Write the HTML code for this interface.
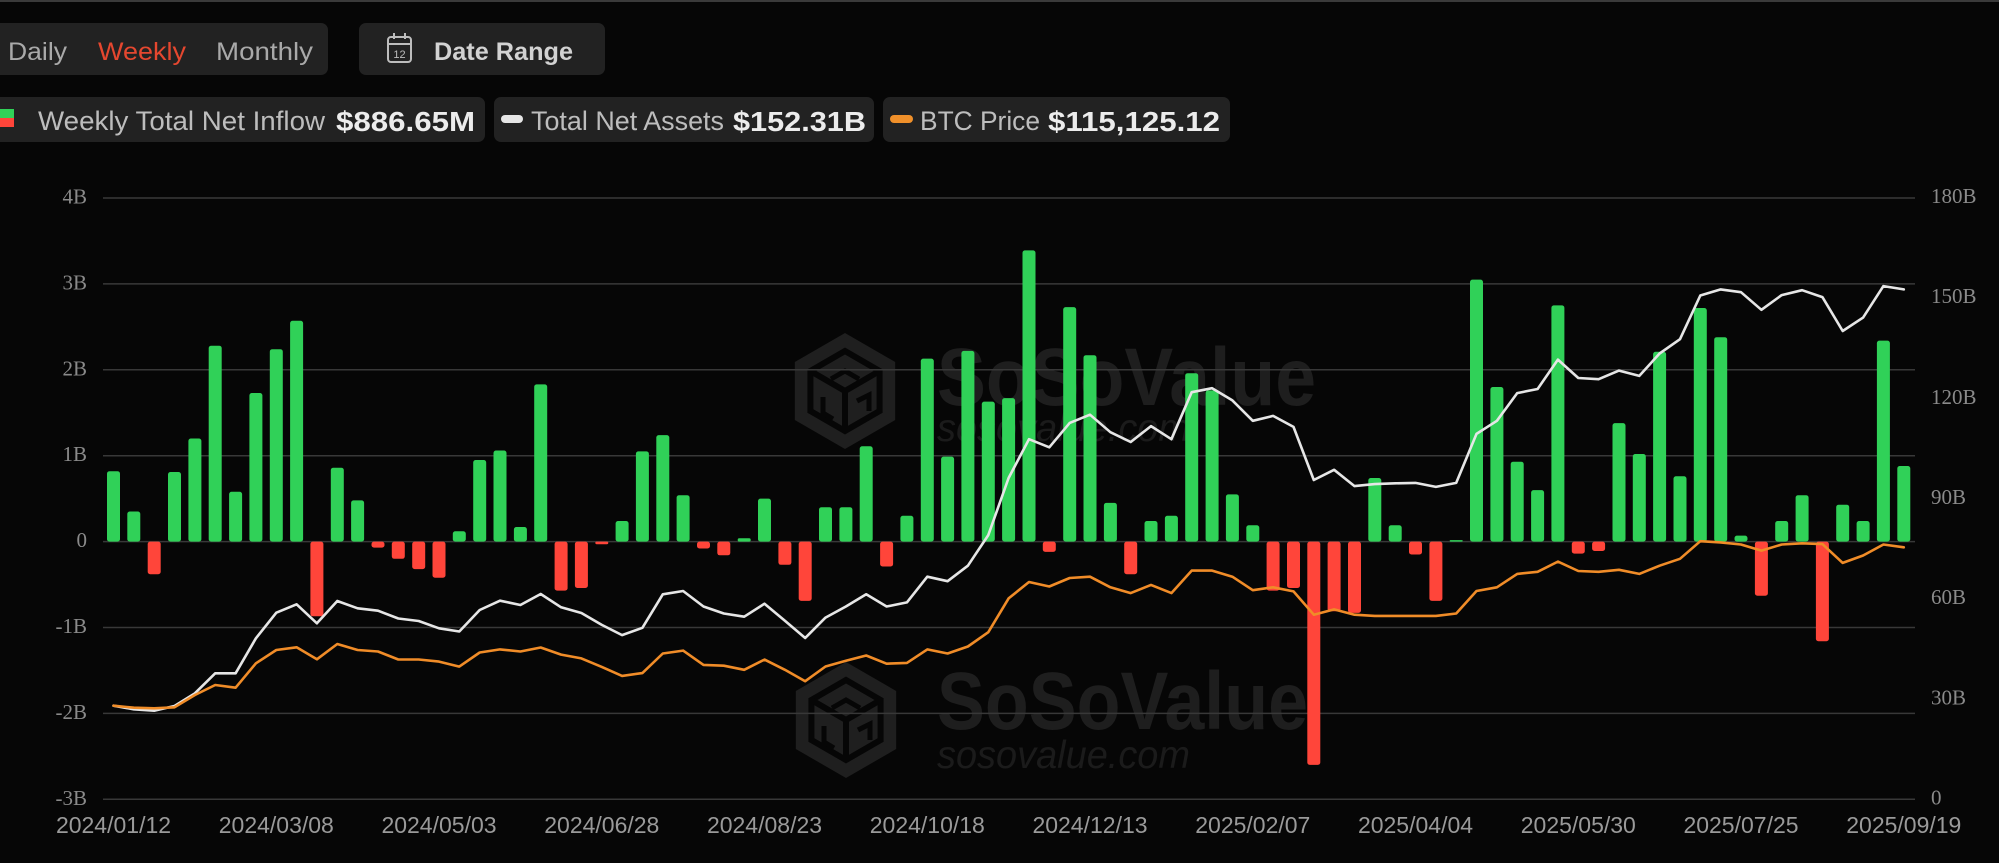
<!DOCTYPE html>
<html>
<head>
<meta charset="utf-8">
<style>
html,body{margin:0;padding:0;background:#060606;}
body{width:1999px;height:863px;overflow:hidden;}
svg{display:block;}
text{font-family:"Liberation Sans",sans-serif;}
g.ser text{font-family:"Liberation Serif",serif;}
</style>
</head>
<body>
<svg width="1999" height="863" viewBox="0 0 1999 863" xmlns="http://www.w3.org/2000/svg">
<defs>
<g id="logo">
<polygon points="0,-58 50.2,-29 50.2,29 0,58 -50.2,29 -50.2,-29" fill="#1f1f1f"/>
<polygon points="0,-40 34.6,-20 34.6,20 0,40 -34.6,20 -34.6,-20" fill="none" stroke="#060606" stroke-width="6"/>
<polyline points="-34.6,-20 0,0 34.6,-20" fill="none" stroke="#060606" stroke-width="6"/>
<line x1="0" y1="0" x2="0" y2="40" stroke="#060606" stroke-width="6"/>
<polyline points="-14,-12 0,-20 14,-12" fill="none" stroke="#060606" stroke-width="5"/>
<polyline points="-22,6 -22,22 -12,28" fill="none" stroke="#060606" stroke-width="5"/>
<polyline points="12,10 24,4 24,20" fill="none" stroke="#060606" stroke-width="5"/>
</g>
</defs>
<rect x="0" y="0" width="1999" height="863" fill="#060606"/>
<rect x="0" y="0" width="1999" height="2" fill="#3a3a3a"/>

<!-- Toggle -->
<rect x="-10" y="23" width="338" height="52" rx="7" fill="#222222"/>
<text x="8" y="60" font-size="25" fill="#a9a9a9" textLength="59" lengthAdjust="spacingAndGlyphs">Daily</text>
<text x="98" y="60" font-size="25" fill="#e5472f" textLength="88" lengthAdjust="spacingAndGlyphs">Weekly</text>
<text x="216" y="60" font-size="25" fill="#a9a9a9" textLength="97" lengthAdjust="spacingAndGlyphs">Monthly</text>

<rect x="359" y="23" width="246" height="52" rx="7" fill="#222222"/>
<rect x="388" y="37" width="23" height="25" rx="3" fill="none" stroke="#bdbdbd" stroke-width="2"/>
<line x1="388" y1="44" x2="411" y2="44" stroke="#bdbdbd" stroke-width="2"/>
<line x1="394" y1="33" x2="394" y2="39" stroke="#bdbdbd" stroke-width="2"/>
<line x1="405" y1="33" x2="405" y2="39" stroke="#bdbdbd" stroke-width="2"/>
<text x="399.5" y="58" font-size="11" fill="#bdbdbd" text-anchor="middle">12</text>
<text x="434" y="60" font-size="25" font-weight="bold" fill="#d2d2d2" textLength="139" lengthAdjust="spacingAndGlyphs">Date Range</text>

<!-- Legend -->
<rect x="-10" y="97" width="495" height="45" rx="7" fill="#222222"/>
<rect x="0" y="109" width="14" height="9" fill="#30d158"/>
<rect x="0" y="118" width="14" height="9" fill="#ff453a"/>
<text x="38" y="130" font-size="27" fill="#bdbdbd" textLength="287" lengthAdjust="spacingAndGlyphs">Weekly Total Net Inflow</text>
<text x="336" y="131" font-size="28" font-weight="bold" fill="#ececec" textLength="139" lengthAdjust="spacingAndGlyphs">$886.65M</text>

<rect x="494" y="97" width="380" height="45" rx="7" fill="#222222"/>
<rect x="501" y="115" width="22" height="8" rx="4" fill="#e6e6e6"/>
<text x="531" y="130" font-size="27" fill="#bdbdbd" textLength="193" lengthAdjust="spacingAndGlyphs">Total Net Assets</text>
<text x="733" y="131" font-size="28" font-weight="bold" fill="#ececec" textLength="133" lengthAdjust="spacingAndGlyphs">$152.31B</text>

<rect x="883" y="97" width="347" height="45" rx="7" fill="#222222"/>
<rect x="890" y="115" width="23" height="8" rx="4" fill="#f0902a"/>
<text x="920" y="130" font-size="27" fill="#bdbdbd" textLength="120" lengthAdjust="spacingAndGlyphs">BTC Price</text>
<text x="1048" y="131" font-size="28" font-weight="bold" fill="#ececec" textLength="172" lengthAdjust="spacingAndGlyphs">$115,125.12</text>

<!-- Watermarks -->
<use href="#logo" transform="translate(845,391)"/>
<use href="#logo" transform="translate(846,720)"/>
<text x="937" y="405" font-size="82" font-weight="bold" fill="#1e1e1e" textLength="379" lengthAdjust="spacingAndGlyphs">SoSoValue</text>
<text x="937" y="441" font-size="39" font-style="italic" fill="#1b1b1b" textLength="253" lengthAdjust="spacingAndGlyphs">sosovalue.com</text>
<text x="937" y="729" font-size="82" font-weight="bold" fill="#1e1e1e" textLength="371" lengthAdjust="spacingAndGlyphs">SoSoValue</text>
<text x="937" y="768" font-size="39" font-style="italic" fill="#1b1b1b" textLength="253" lengthAdjust="spacingAndGlyphs">sosovalue.com</text>

<!-- Gridlines -->
<g stroke="#383838" stroke-width="1.5">
<line x1="103" y1="198" x2="1915" y2="198"/>
<line x1="103" y1="283.9" x2="1915" y2="283.9"/>
<line x1="103" y1="369.8" x2="1915" y2="369.8"/>
<line x1="103" y1="455.7" x2="1915" y2="455.7"/>
<line x1="103" y1="541.6" x2="1915" y2="541.6"/>
<line x1="103" y1="627.5" x2="1915" y2="627.5"/>
<line x1="103" y1="713.4" x2="1915" y2="713.4"/>
<line x1="103" y1="799.3" x2="1915" y2="799.3"/>
</g>

<!-- Left axis labels -->
<g class="ser" font-size="21" fill="#8a8a8a" text-anchor="end">
<text x="87" y="203.5">4B</text>
<text x="87" y="289.4">3B</text>
<text x="87" y="375.3">2B</text>
<text x="87" y="461.2">1B</text>
<text x="87" y="547.1">0</text>
<text x="87" y="633">-1B</text>
<text x="87" y="718.9">-2B</text>
<text x="87" y="804.8">-3B</text>
</g>
<!-- Right axis labels -->
<g class="ser" font-size="21" fill="#8a8a8a">
<text x="1931" y="203">180B</text>
<text x="1931" y="303">150B</text>
<text x="1931" y="404">120B</text>
<text x="1931" y="504">90B</text>
<text x="1931" y="604">60B</text>
<text x="1931" y="704.6">30B</text>
<text x="1931" y="804.6">0</text>
</g>
<!-- X axis labels -->
<g font-size="23" fill="#9a9a9a" text-anchor="middle">
<text x="113.5" y="833">2024/01/12</text>
<text x="276.3" y="833">2024/03/08</text>
<text x="439" y="833">2024/05/03</text>
<text x="601.8" y="833">2024/06/28</text>
<text x="764.5" y="833">2024/08/23</text>
<text x="927.3" y="833">2024/10/18</text>
<text x="1090" y="833">2024/12/13</text>
<text x="1252.8" y="833">2025/02/07</text>
<text x="1415.5" y="833">2025/04/04</text>
<text x="1578.3" y="833">2025/05/30</text>
<text x="1741" y="833">2025/07/25</text>
<text x="1903.8" y="833">2025/09/19</text>
</g>

<!-- Green bars -->
<g fill="#30d158">
<rect x="107" y="471.2" width="13" height="70.4" rx="2.5"/>
<rect x="127.3" y="511.5" width="13" height="30.1" rx="2.5"/>
<rect x="168" y="472" width="13" height="69.6" rx="2.5"/>
<rect x="188.4" y="438.5" width="13" height="103.1" rx="2.5"/>
<rect x="208.7" y="345.7" width="13" height="195.9" rx="2.5"/>
<rect x="229.1" y="491.8" width="13" height="49.8" rx="2.5"/>
<rect x="249.4" y="393" width="13" height="148.6" rx="2.5"/>
<rect x="269.8" y="349.2" width="13" height="192.4" rx="2.5"/>
<rect x="290.1" y="320.8" width="13" height="220.8" rx="2.5"/>
<rect x="330.8" y="467.7" width="13" height="73.9" rx="2.5"/>
<rect x="351.1" y="500.4" width="13" height="41.2" rx="2.5"/>
<rect x="452.8" y="531.3" width="13" height="10.3" rx="2.5"/>
<rect x="473.2" y="460" width="13" height="81.6" rx="2.5"/>
<rect x="493.5" y="450.5" width="13" height="91.1" rx="2.5"/>
<rect x="513.9" y="527" width="13" height="14.6" rx="2.5"/>
<rect x="534.2" y="384.4" width="13" height="157.2" rx="2.5"/>
<rect x="615.6" y="521" width="13" height="20.6" rx="2.5"/>
<rect x="635.9" y="451.4" width="13" height="90.2" rx="2.5"/>
<rect x="656.3" y="435.1" width="13" height="106.5" rx="2.5"/>
<rect x="676.6" y="495.2" width="13" height="46.4" rx="2.5"/>
<rect x="737.7" y="538.2" width="13" height="3.4" rx="1.5"/>
<rect x="758" y="498.6" width="13" height="43" rx="2.5"/>
<rect x="819" y="507.2" width="13" height="34.4" rx="2.5"/>
<rect x="839.4" y="507.2" width="13" height="34.4" rx="2.5"/>
<rect x="859.7" y="446.3" width="13" height="95.3" rx="2.5"/>
<rect x="900.4" y="515.8" width="13" height="25.8" rx="2.5"/>
<rect x="920.8" y="358.6" width="13" height="183" rx="2.5"/>
<rect x="941.1" y="456.6" width="13" height="85" rx="2.5"/>
<rect x="961.4" y="350.9" width="13" height="190.7" rx="2.5"/>
<rect x="981.8" y="401.6" width="13" height="140" rx="2.5"/>
<rect x="1002.1" y="398.1" width="13" height="143.5" rx="2.5"/>
<rect x="1022.5" y="250.4" width="13" height="291.2" rx="2.5"/>
<rect x="1063.2" y="307.1" width="13" height="234.5" rx="2.5"/>
<rect x="1083.5" y="355.2" width="13" height="186.4" rx="2.5"/>
<rect x="1103.9" y="502.9" width="13" height="38.7" rx="2.5"/>
<rect x="1144.5" y="521" width="13" height="20.6" rx="2.5"/>
<rect x="1164.9" y="515.8" width="13" height="25.8" rx="2.5"/>
<rect x="1185.2" y="373.2" width="13" height="168.4" rx="2.5"/>
<rect x="1205.6" y="390.4" width="13" height="151.2" rx="2.5"/>
<rect x="1225.9" y="494.4" width="13" height="47.2" rx="2.5"/>
<rect x="1246.3" y="525.3" width="13" height="16.3" rx="2.5"/>
<rect x="1368.3" y="478" width="13" height="63.6" rx="2.5"/>
<rect x="1388.7" y="525.3" width="13" height="16.3" rx="2.5"/>
<rect x="1449.7" y="540.1" width="13" height="1.5" rx="0.7"/>
<rect x="1470" y="279.6" width="13" height="262" rx="2.5"/>
<rect x="1490.4" y="387" width="13" height="154.6" rx="2.5"/>
<rect x="1510.7" y="461.7" width="13" height="79.9" rx="2.5"/>
<rect x="1531.1" y="490.1" width="13" height="51.5" rx="2.5"/>
<rect x="1551.4" y="305.4" width="13" height="236.2" rx="2.5"/>
<rect x="1612.5" y="423.1" width="13" height="118.5" rx="2.5"/>
<rect x="1632.8" y="454" width="13" height="87.6" rx="2.5"/>
<rect x="1653.1" y="351.8" width="13" height="189.8" rx="2.5"/>
<rect x="1673.5" y="476.3" width="13" height="65.3" rx="2.5"/>
<rect x="1693.8" y="308" width="13" height="233.6" rx="2.5"/>
<rect x="1714.2" y="337.2" width="13" height="204.4" rx="2.5"/>
<rect x="1734.5" y="535.6" width="13" height="6" rx="2.5"/>
<rect x="1775.2" y="521" width="13" height="20.6" rx="2.5"/>
<rect x="1795.6" y="495.2" width="13" height="46.4" rx="2.5"/>
<rect x="1836.2" y="504.7" width="13" height="36.9" rx="2.5"/>
<rect x="1856.6" y="521" width="13" height="20.6" rx="2.5"/>
<rect x="1876.9" y="340.6" width="13" height="201" rx="2.5"/>
<rect x="1897.3" y="466" width="13" height="75.6" rx="2.5"/>
</g>

<!-- Red bars -->
<g fill="#ff453a">
<rect x="147.7" y="541.6" width="13" height="32.6" rx="2.5"/>
<rect x="310.4" y="541.6" width="13" height="74.7" rx="2.5"/>
<rect x="371.5" y="541.6" width="13" height="6" rx="2.5"/>
<rect x="391.8" y="541.6" width="13" height="17.2" rx="2.5"/>
<rect x="412.2" y="541.6" width="13" height="27.5" rx="2.5"/>
<rect x="432.5" y="541.6" width="13" height="36.1" rx="2.5"/>
<rect x="554.6" y="541.6" width="13" height="49" rx="2.5"/>
<rect x="574.9" y="541.6" width="13" height="46.4" rx="2.5"/>
<rect x="595.3" y="541.6" width="13" height="2.6" rx="1.2"/>
<rect x="697" y="541.6" width="13" height="6.9" rx="2.5"/>
<rect x="717.3" y="541.6" width="13" height="13.7" rx="2.5"/>
<rect x="778.4" y="541.6" width="13" height="23.2" rx="2.5"/>
<rect x="798.7" y="541.6" width="13" height="59.3" rx="2.5"/>
<rect x="880.1" y="541.6" width="13" height="24.9" rx="2.5"/>
<rect x="1042.8" y="541.6" width="13" height="10.3" rx="2.5"/>
<rect x="1124.2" y="541.6" width="13" height="32.6" rx="2.5"/>
<rect x="1266.6" y="541.6" width="13" height="49" rx="2.5"/>
<rect x="1287" y="541.6" width="13" height="46.4" rx="2.5"/>
<rect x="1307.3" y="541.6" width="13" height="223.3" rx="2.5"/>
<rect x="1327.6" y="541.6" width="13" height="69.6" rx="2.5"/>
<rect x="1348" y="541.6" width="13" height="71.3" rx="2.5"/>
<rect x="1409" y="541.6" width="13" height="12.9" rx="2.5"/>
<rect x="1429.4" y="541.6" width="13" height="59.3" rx="2.5"/>
<rect x="1571.8" y="541.6" width="13" height="12" rx="2.5"/>
<rect x="1592.1" y="541.6" width="13" height="9.4" rx="2.5"/>
<rect x="1754.9" y="541.6" width="13" height="54.1" rx="2.5"/>
<rect x="1815.9" y="541.6" width="13" height="99.6" rx="2.5"/>
</g>

<!-- Total Net Assets (white) -->
<polyline fill="none" stroke="#e6e6e6" stroke-width="2.6" stroke-linejoin="round" stroke-linecap="round" points="113.5,705.7 133.8,709.3 154.2,710.7 174.5,706 194.9,693.3 215.2,673.3 235.6,673.3 255.9,638.3 276.3,612.7 296.6,604.3 316.9,623.3 337.3,601 357.6,608.3 378,610.7 398.3,618.5 418.7,621 439,628.3 459.3,631.5 479.7,610 500,600.7 520.4,605 540.7,594 561.1,607.3 581.4,613 601.8,624.9 622.1,635.1 642.4,627.8 662.8,594.3 683.1,591 703.5,606.5 723.8,613.5 744.2,616.7 764.5,603.7 784.9,620.8 805.2,638 825.5,617.6 845.9,606.5 866.2,594.3 886.6,606.5 906.9,602.4 927.3,576.7 947.6,581.2 967.9,565.7 988.3,535.1 1008.6,478 1029,439.2 1049.3,447.3 1069.7,422.9 1090,414.7 1110.4,432.2 1130.7,442 1151,426.1 1171.4,439.2 1191.7,392.2 1212.1,388.2 1232.4,400.4 1252.8,420.8 1273.1,415.9 1293.5,426.9 1313.8,480 1334.1,469.8 1354.5,486.1 1374.8,484.1 1395.2,483.3 1415.5,482.9 1435.9,486.9 1456.2,482.9 1476.5,433.9 1496.9,420.8 1517.2,393.1 1537.6,389 1557.9,359.6 1578.3,378 1598.6,379.2 1619,370.6 1639.3,375.9 1659.6,353.5 1680,339.2 1700.3,295.5 1720.7,289.4 1741,292.2 1761.4,309.8 1781.7,295.1 1802.1,290.2 1822.4,297.1 1842.7,331 1863.1,317.6 1883.4,286.1 1903.8,289.4"/>

<!-- BTC Price (orange) -->
<polyline fill="none" stroke="#f08c28" stroke-width="2.6" stroke-linejoin="round" stroke-linecap="round" points="113.5,705.7 133.8,707.7 154.2,708.3 174.5,707.3 194.9,695 215.2,685 235.6,687.7 255.9,663.3 276.3,650 296.6,647.3 316.9,659.3 337.3,644 357.6,650 378,651.5 398.3,659.5 418.7,659.5 439,661.6 459.3,666.6 479.7,652.5 500,649.4 520.4,651.5 540.7,647.5 561.1,654.6 581.4,658.4 601.8,666.9 622.1,675.9 642.4,673.1 662.8,653.5 683.1,650.6 703.5,664.9 723.8,665.7 744.2,669.8 764.5,659.6 784.9,669.8 805.2,681.2 825.5,666.5 845.9,660.8 866.2,655.5 886.6,663.7 906.9,662.9 927.3,649.4 947.6,653.5 967.9,646.5 988.3,632.2 1008.6,598.4 1029,582 1049.3,586.5 1069.7,578 1090,576.7 1110.4,587.3 1130.7,593.1 1151,584.9 1171.4,593.1 1191.7,570.6 1212.1,570.6 1232.4,576.7 1252.8,590.2 1273.1,587.3 1293.5,591.4 1313.8,614.7 1334.1,609.4 1354.5,614.7 1374.8,615.9 1395.2,615.9 1415.5,615.9 1435.9,615.9 1456.2,613.5 1476.5,591 1496.9,587.3 1517.2,573.9 1537.6,571.8 1557.9,561.6 1578.3,571 1598.6,571.8 1619,569.8 1639.3,573.9 1659.6,565.7 1680,558.8 1700.3,541.2 1720.7,542.4 1741,544.5 1761.4,550.6 1781.7,544.5 1802.1,543.3 1822.4,544.1 1842.7,562.9 1863.1,555.5 1883.4,544.5 1903.8,547.3"/>
</svg>
</body>
</html>
